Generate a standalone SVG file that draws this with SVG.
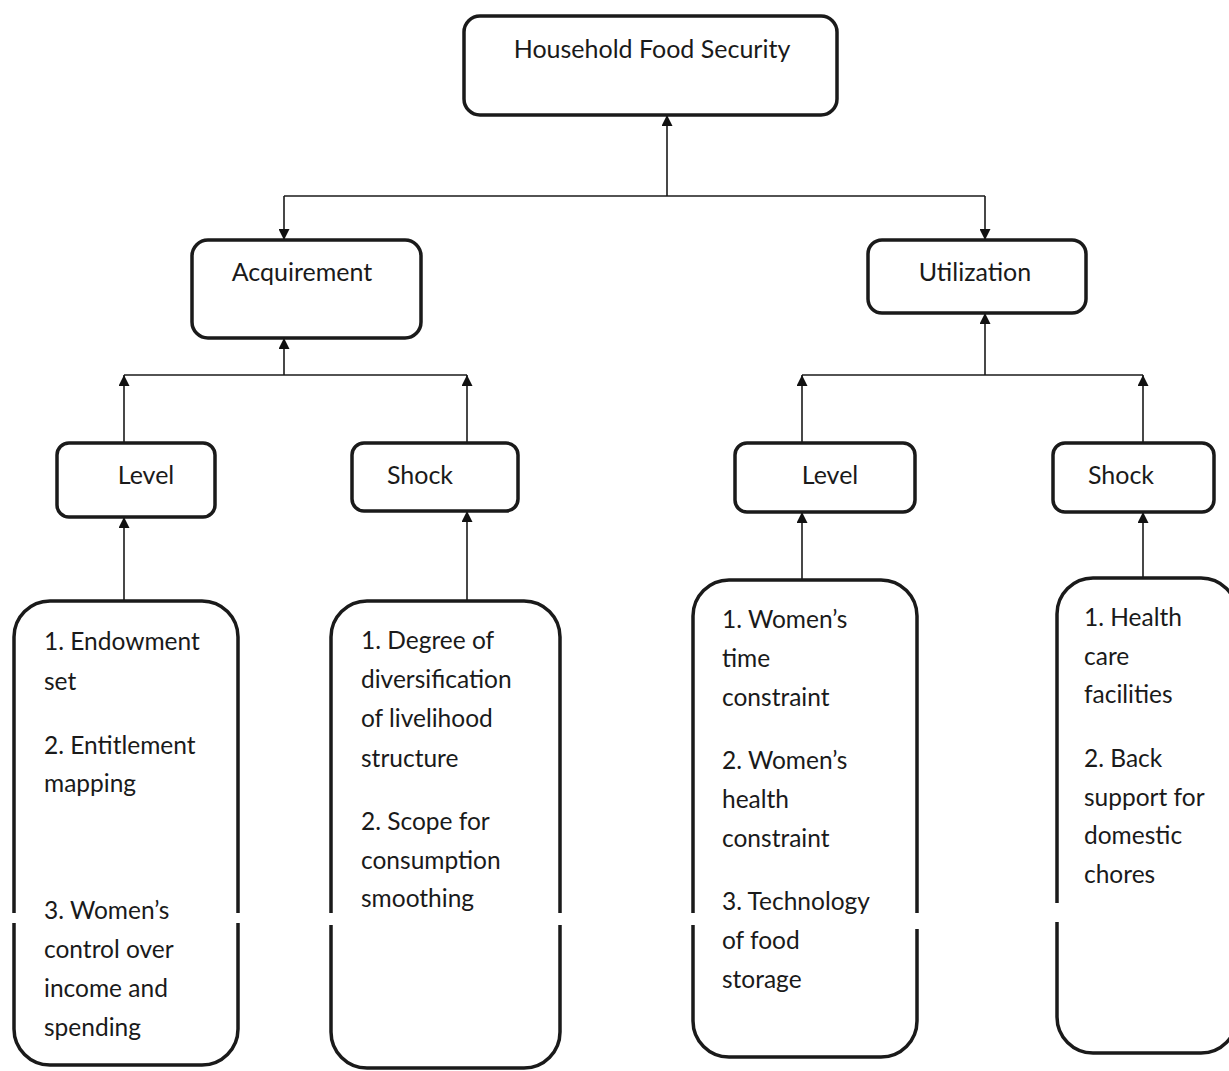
<svg xmlns="http://www.w3.org/2000/svg" width="1229" height="1071" viewBox="0 0 1229 1071">
<defs>
<marker id="ah" viewBox="0 0 10 10" refX="10" refY="5" markerWidth="12" markerHeight="11" markerUnits="userSpaceOnUse" orient="auto">
<path d="M0,0 L10,5 L0,10 z" fill="#111"/>
</marker>
<style>
.box{fill:#fff;stroke:#1a1a1a;stroke-width:3.5}
.t{font-family:Lato,"Open Sans","Liberation Sans",sans-serif;font-size:24.5px;fill:#1a1a1a}
.h{font-size:25px}
.c{text-anchor:middle}
.ln{fill:none;stroke:#1a1a1a;stroke-width:1.6}
.gap{fill:#fff}
</style>
</defs>
<rect width="1229" height="1071" fill="#fff"/>
<g id="connectors">
<path class="ln" d="M667,196 L667,115" marker-end="url(#ah)"/>
<path class="ln" d="M284,196 L985,196"/>
<path class="ln" d="M284,196 L284,240" marker-end="url(#ah)"/>
<path class="ln" d="M985,196 L985,240" marker-end="url(#ah)"/>
<path class="ln" d="M284,375 L284,338" marker-end="url(#ah)"/>
<path class="ln" d="M124,375 L467,375"/>
<path class="ln" d="M124,443 L124,375" marker-end="url(#ah)"/>
<path class="ln" d="M467,443 L467,375" marker-end="url(#ah)"/>
<path class="ln" d="M124,601 L124,517" marker-end="url(#ah)"/>
<path class="ln" d="M467,601 L467,511" marker-end="url(#ah)"/>
<path class="ln" d="M985,375 L985,313" marker-end="url(#ah)"/>
<path class="ln" d="M802,375 L1143,375"/>
<path class="ln" d="M802,443 L802,375" marker-end="url(#ah)"/>
<path class="ln" d="M1143,443 L1143,375" marker-end="url(#ah)"/>
<path class="ln" d="M802,580 L802,512" marker-end="url(#ah)"/>
<path class="ln" d="M1143,578 L1143,512" marker-end="url(#ah)"/>
</g>
<g id="household-food-security">
<rect class="box" x="464" y="16" width="373" height="99" rx="16"/>
<text class="t h c" x="652" y="58">Household Food Security</text>
</g>
<g id="acquirement">
<rect class="box" x="192" y="240" width="229" height="98" rx="16"/>
<text class="t h c" x="302" y="281">Acquirement</text>
</g>
<g id="utilization">
<rect class="box" x="868" y="240" width="218" height="73" rx="14"/>
<text class="t h c" x="975" y="281">Utilization</text>
</g>
<g id="acq-level">
<rect class="box" x="57" y="443" width="158" height="74" rx="12"/>
<text class="t h c" x="146" y="484">Level</text>
</g>
<g id="acq-shock">
<rect class="box" x="352" y="443" width="166" height="68" rx="12"/>
<text class="t h c" x="420" y="484">Shock</text>
</g>
<g id="util-level">
<rect class="box" x="735" y="443" width="180" height="69" rx="12"/>
<text class="t h c" x="830" y="484">Level</text>
</g>
<g id="util-shock">
<rect class="box" x="1053" y="443" width="161" height="69" rx="12"/>
<text class="t h c" x="1121" y="484">Shock</text>
</g>
<g id="acq-level-items">
<rect class="box" x="14" y="601" width="224" height="464" rx="36"/>
<rect class="gap" x="10" y="913" width="9" height="10"/>
<rect class="gap" x="233" y="913" width="9" height="10"/>
<text class="t" x="44" y="650">1. Endowment</text>
<text class="t" x="44" y="690">set</text>
<text class="t" x="44" y="754">2. Entitlement</text>
<text class="t" x="44" y="792">mapping</text>
<text class="t" x="44" y="919">3. Women’s</text>
<text class="t" x="44" y="958">control over</text>
<text class="t" x="44" y="997">income and</text>
<text class="t" x="44" y="1036">spending</text>
</g>
<g id="acq-shock-items">
<rect class="box" x="331" y="601" width="229" height="467" rx="36"/>
<rect class="gap" x="327" y="913" width="9" height="12"/>
<rect class="gap" x="555" y="913" width="9" height="12"/>
<text class="t" x="361" y="649">1. Degree of</text>
<text class="t" x="361" y="688">diversification</text>
<text class="t" x="361" y="727">of livelihood</text>
<text class="t" x="361" y="767">structure</text>
<text class="t" x="361" y="830">2. Scope for</text>
<text class="t" x="361" y="869">consumption</text>
<text class="t" x="361" y="907">smoothing</text>
</g>
<g id="util-level-items">
<rect class="box" x="693" y="580" width="224" height="477" rx="36"/>
<rect class="gap" x="689" y="913" width="9" height="12"/>
<rect class="gap" x="912" y="913" width="9" height="16"/>
<text class="t" x="722" y="628">1. Women’s</text>
<text class="t" x="722" y="667">time</text>
<text class="t" x="722" y="706">constraint</text>
<text class="t" x="722" y="769">2. Women’s</text>
<text class="t" x="722" y="808">health</text>
<text class="t" x="722" y="847">constraint</text>
<text class="t" x="722" y="910">3. Technology</text>
<text class="t" x="722" y="949">of food</text>
<text class="t" x="722" y="988">storage</text>
</g>
<g id="util-shock-items">
<rect class="box" x="1057" y="578" width="180" height="475" rx="36"/>
<rect class="gap" x="1053" y="903" width="9" height="19"/>
<text class="t" x="1084" y="626">1. Health</text>
<text class="t" x="1084" y="665">care</text>
<text class="t" x="1084" y="703">facilities</text>
<text class="t" x="1084" y="767">2. Back</text>
<text class="t" x="1084" y="806">support for</text>
<text class="t" x="1084" y="844">domestic</text>
<text class="t" x="1084" y="883">chores</text>
</g>
</svg>
